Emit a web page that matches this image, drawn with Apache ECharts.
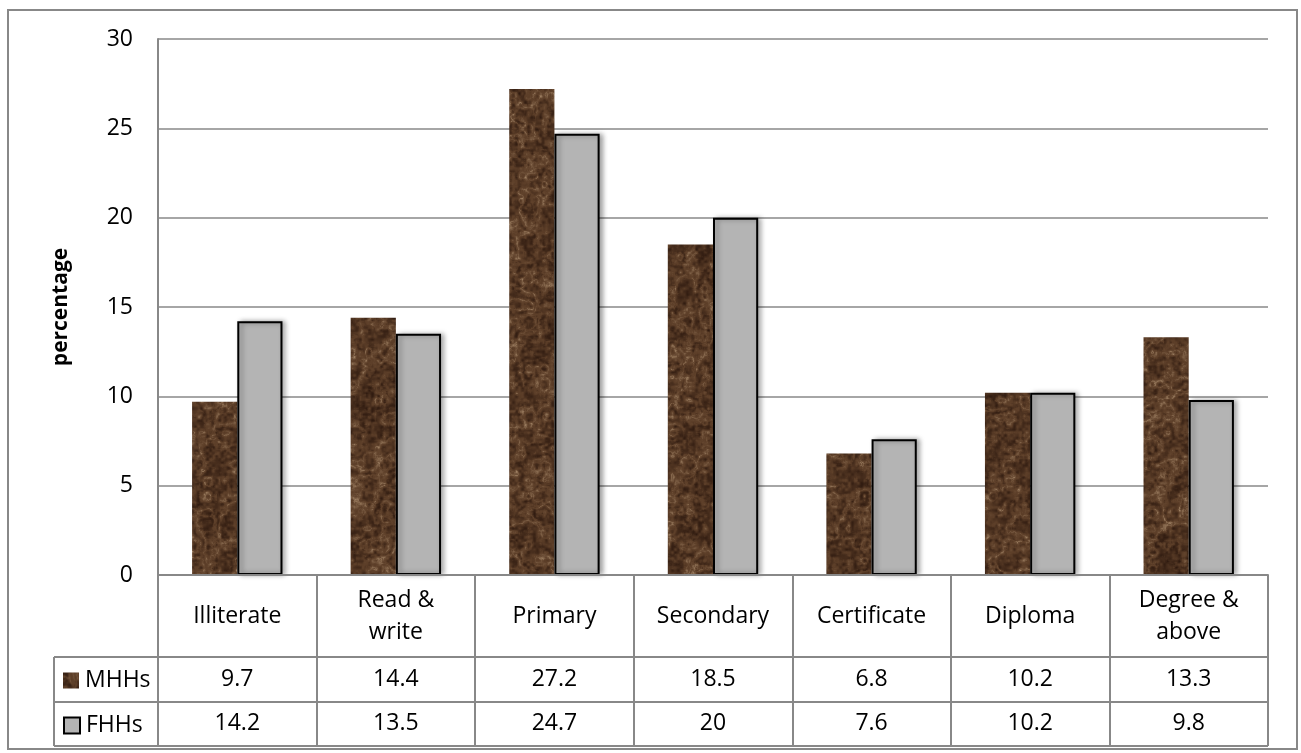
<!DOCTYPE html>
<html>
<head>
<meta charset="utf-8">
<script src="https://cdn.jsdelivr.net/npm/echarts@6/dist/echarts.min.js"></script>
<style>
html,body{margin:0;padding:0;background:#fff;}
#main{width:1301px;height:753px;}
</style>
</head>
<body>
<div id="main"></div>
<script>
const categories = ['Illiterate', 'Read &\nwrite', 'Primary', 'Secondary', 'Certificate', 'Diploma', 'Degree &\nabove'];
const mhhs = [9.7, 14.4, 27.2, 18.5, 6.8, 10.2, 13.3];
const fhhs = [14.2, 13.5, 24.7, 20, 7.6, 10.2, 9.8];
const seriesNames = ['MHHs', 'FHHs'];
const yTitle = 'percentage';

// deterministic marble-like brown texture covering the whole chart (no visible tiling seams)
function makeTexture() {
  const W = 1301, H = 620;
  const c = document.createElement('canvas');
  c.width = W; c.height = H;
  const ctx = c.getContext('2d');
  const img = ctx.createImageData(W, H);
  function hash(x, y) { const s = Math.sin(x * 127.1 + y * 311.7) * 43758.5453; return s - Math.floor(s); }
  function smooth(t) { return t * t * (3 - 2 * t); }
  function noise(x, y) {
    const xi = Math.floor(x), yi = Math.floor(y);
    const xf = smooth(x - xi), yf = smooth(y - yi);
    const a = hash(xi, yi), b = hash(xi + 1, yi), c2 = hash(xi, yi + 1), d = hash(xi + 1, yi + 1);
    return (a * (1 - xf) + b * xf) * (1 - yf) + (c2 * (1 - xf) + d * xf) * yf;
  }
  function turb(x, y) {
    let v = 0, amp = 0.5, f = 1;
    for (let o = 0; o < 4; o++) { v += amp * Math.abs(noise(x * f, y * f) * 2 - 1); amp *= 0.5; f *= 2; }
    return v;
  }
  const dark = [44, 24, 14], mid = [92, 62, 40], light = [160, 130, 100];
  for (let y = 0; y < H; y++) {
    for (let x = 0; x < W; x++) {
      const t = turb(x / 16, y / 16);
      const vein = Math.abs(Math.sin((x * 0.05 + y * 0.03) + t * 6));
      let v = 0.5 * (1 - vein) + 0.4 * noise(x / 3, y / 3) + 0.15 * noise(x / 30, y / 30);
      v = Math.min(1, Math.max(0, v));
      let col;
      if (v < 0.5) { const k = v / 0.5; col = dark.map((d, i) => d + (mid[i] - d) * k); }
      else { const k = (v - 0.5) / 0.5; col = mid.map((m, i) => m + (light[i] - m) * k * k); }
      const p = (y * W + x) * 4;
      img.data[p] = col[0]; img.data[p + 1] = col[1]; img.data[p + 2] = col[2]; img.data[p + 3] = 255;
    }
  }
  ctx.putImageData(img, 0, 0);
  return c;
}
const texture = makeTexture();

const FONT = '"Open Sans", "Noto Sans", sans-serif';
const GRID = { left: 158, right: 33, top: 39, bottom: 178 };
const gridColor = '#888888';
const tableLeft = 54, tableRight = 1268, rowY = [657, 702, 746];
const legendTops = [669, 714];

const chart = echarts.init(document.getElementById('main'), null, { renderer: 'canvas' });

const option = {
  backgroundColor: '#ffffff',
  animation: false,
  textStyle: { fontFamily: FONT },
  grid: GRID,
  legend: seriesNames.map((n, i) => ({
    left: 63, top: legendTops[i],
    itemWidth: 16, itemHeight: 16, itemGap: 0,
    icon: 'rect', padding: 0,
    textStyle: { fontFamily: FONT, fontSize: 23, color: '#000', padding: [0, 0, 0, 1] },
    data: [n]
  })),
  xAxis: [
    {
      type: 'category', data: categories, position: 'bottom',
      axisLine: { show: true, lineStyle: { color: gridColor, width: 2 } },
      axisTick: { show: true, length: 171, lineStyle: { color: gridColor, width: 2 } },
      axisLabel: { margin: 41, verticalAlign: 'middle', fontFamily: FONT, fontSize: 23, color: '#000', lineHeight: 32, interval: 0 },
      z: 5
    },
    {
      type: 'category', data: mhhs.map(String), position: 'bottom', offset: 82,
      axisLine: { show: false }, axisTick: { show: false },
      axisLabel: { margin: 22, verticalAlign: 'middle', fontFamily: FONT, fontSize: 23, color: '#000', interval: 0 }
    },
    {
      type: 'category', data: fhhs.map(String), position: 'bottom', offset: 127,
      axisLine: { show: false }, axisTick: { show: false },
      axisLabel: { margin: 21, verticalAlign: 'middle', fontFamily: FONT, fontSize: 23, color: '#000', interval: 0 }
    }
  ],
  yAxis: {
    type: 'value', min: 0, max: 30, interval: 5,
    name: yTitle, nameLocation: 'middle', nameGap: 86,
    nameTextStyle: { fontFamily: FONT, fontSize: 21, fontWeight: 'bold', color: '#000' },
    axisLine: { show: true, lineStyle: { color: gridColor, width: 2 } },
    axisTick: { show: false },
    axisLabel: { margin: 25, fontFamily: FONT, fontSize: 23, color: '#000' },
    splitLine: { show: true, lineStyle: { color: gridColor, width: 1.5 } }
  },
  series: [
    {
      name: seriesNames[0], type: 'bar', xAxisIndex: 0, data: mhhs,
      barGap: '0%', barCategoryGap: '43%',
      itemStyle: { color: { image: texture, repeat: 'repeat' } },
      z: 3
    },
    {
      name: seriesNames[1], type: 'bar', xAxisIndex: 0, data: fhhs,
      barGap: '0%', barCategoryGap: '43%',
      itemStyle: {
        color: '#b4b4b4', borderColor: '#000', borderWidth: 2,
        shadowColor: 'rgba(0,0,0,0.35)', shadowBlur: 5, shadowOffsetX: 3, shadowOffsetY: 0
      },
      z: 3
    }
  ],
  graphic: [
    { type: 'rect', shape: { x: 8, y: 10, width: 1289, height: 739 }, style: { fill: null, stroke: gridColor, lineWidth: 2 }, silent: true, z: 0 },
    ...rowY.map(y => ({ type: 'line', shape: { x1: tableLeft, y1: y, x2: tableRight, y2: y }, style: { stroke: gridColor, lineWidth: 2 }, silent: true, z: 10 })),
    { type: 'line', shape: { x1: tableLeft, y1: rowY[0], x2: tableLeft, y2: rowY[2] }, style: { stroke: gridColor, lineWidth: 2 }, silent: true, z: 10 }
  ]
};
chart.setOption(option);
</script>
</body>
</html>
